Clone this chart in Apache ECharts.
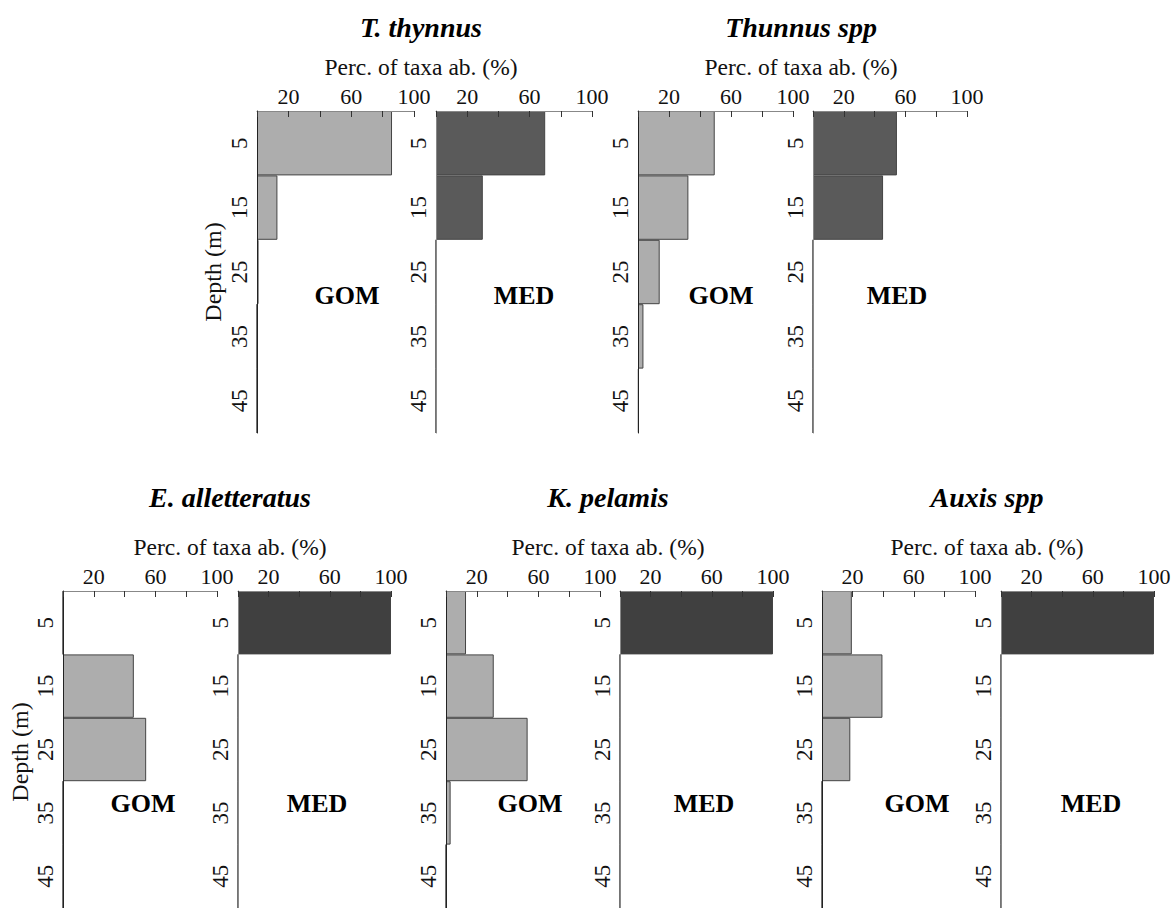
<!DOCTYPE html>
<html>
<head>
<meta charset="utf-8">
<script src="https://cdn.jsdelivr.net/npm/echarts@6/dist/echarts.min.js"></script>
<style>
html,body{margin:0;padding:0;background:#fff;}
#chart{width:1175px;height:908px;}
</style>
</head>
<body>
<div id="chart"></div>
<script>
// ---- data ----
const depthBins = ['5', '15', '25', '35', '45'];
const xTickLabels = [20, 60, 100];
const speciesNames = ['T. thynnus', 'Thunnus spp', 'E. alletteratus', 'K. pelamis', 'Auxis spp'];
const regionNames = ['GOM', 'MED'];
const ttGOM = [86, 13, 1, 0, 0];
const ttMED = [70, 30, 0, 0, 0];
const tsGOM = [49.5, 32.5, 14, 3.5, 0.5];
const tsMED = [54.5, 45.5, 0, 0, 0];
const eaGOM = [0, 46, 54, 0, 0];
const eaMED = [100, 0, 0, 0, 0];
const kpGOM = [13, 31, 53, 3, 0];
const kpMED = [100, 0, 0, 0, 0];
const auGOM = [19.5, 39.5, 18.5, 0, 0];
const auMED = [100, 0, 0, 0, 0];

// ---- layout ----
const FONT = '"Liberation Serif", "DejaVu Serif", serif';
const GOM_FILL = '#adadad', MED_TOP = '#5a5a5a', MED_BOT = '#404040';
const panels = [
  {data: ttGOM, region: 0, left: 257, top: 111, width: 157, height: 322, fill: GOM_FILL, lab: [347, 295], depth: 213},
  {data: ttMED, region: 1, left: 436, top: 111, width: 156, height: 322, fill: MED_TOP, lab: [524, 295]},
  {data: tsGOM, region: 0, left: 638, top: 111, width: 155, height: 322, fill: GOM_FILL, lab: [721, 295]},
  {data: tsMED, region: 1, left: 813, top: 111, width: 154, height: 322, fill: MED_TOP, lab: [897, 295]},
  {data: eaGOM, region: 0, left: 63, top: 591, width: 154, height: 322, fill: GOM_FILL, lab: [143, 803], depth: 20},
  {data: eaMED, region: 1, left: 238, top: 591, width: 153, height: 322, fill: MED_BOT, lab: [317, 803]},
  {data: kpGOM, region: 0, left: 446, top: 591, width: 154, height: 322, fill: GOM_FILL, lab: [530, 803]},
  {data: kpMED, region: 1, left: 620, top: 591, width: 153, height: 322, fill: MED_BOT, lab: [704, 803]},
  {data: auGOM, region: 0, left: 822, top: 591, width: 153, height: 322, fill: GOM_FILL, lab: [917, 803]},
  {data: auMED, region: 1, left: 1001, top: 591, width: 153, height: 322, fill: MED_BOT, lab: [1091, 803]}
];
const titles = [
  {name: speciesNames[0], x: 421, ty: 27, py: 67},
  {name: speciesNames[1], x: 801, ty: 27, py: 67},
  {name: speciesNames[2], x: 230, ty: 497, py: 547},
  {name: speciesNames[3], x: 608, ty: 497, py: 547},
  {name: speciesNames[4], x: 987, ty: 497, py: 547}
];

const grid = [], xAxis = [], yAxis = [], series = [], graphic = [];
panels.forEach((p, i) => {
  grid.push({left: p.left, top: p.top, width: p.width, height: p.height, containLabel: false});
  xAxis.push({
    type: 'value', gridIndex: i, position: 'top', min: 0, max: 100, interval: 20, z: 5,
    splitLine: {show: false},
    axisLine: {show: true, lineStyle: {color: '#888', width: 1}},
    axisTick: {show: true, inside: true, length: 6, lineStyle: {color: '#333', width: 1}},
    axisLabel: {
      margin: 4, color: '#111', fontFamily: FONT, fontSize: 22,
      showMinLabel: true, showMaxLabel: true,
      formatter: v => (xTickLabels.indexOf(v) >= 0 ? String(v) : '')
    }
  });
  yAxis.push({
    type: 'category', gridIndex: i, data: depthBins, inverse: true, z: 5,
    axisLine: {show: true, lineStyle: {color: p.region === 0 ? '#222' : '#888', width: 1}},
    axisTick: {show: false},
    splitLine: {show: false},
    axisLabel: {rotate: 90, margin: 6, color: '#111', fontFamily: FONT, fontSize: 23}
  });
  series.push({
    type: 'bar', xAxisIndex: i, yAxisIndex: i, data: p.data, barWidth: '100%', silent: true,
    itemStyle: {color: p.fill, borderColor: '#444', borderWidth: 1}
  });
  graphic.push({
    type: 'text', x: p.lab[0], y: p.lab[1],
    style: {text: regionNames[p.region], fill: '#000', font: 'bold 26px ' + FONT, textAlign: 'center', textVerticalAlign: 'middle'}
  });
  if (p.depth !== undefined) {
    graphic.push({
      type: 'text', x: p.depth, y: p.top + p.height / 2, rotation: Math.PI / 2,
      style: {text: 'Depth (m)', fill: '#111', font: '24px ' + FONT, textAlign: 'center', textVerticalAlign: 'middle'}
    });
  }
});
titles.forEach(t => {
  graphic.push({
    type: 'text', x: t.x, y: t.ty,
    style: {text: t.name, fill: '#000', font: 'italic bold 28px ' + FONT, textAlign: 'center', textVerticalAlign: 'middle'}
  });
  graphic.push({
    type: 'text', x: t.x, y: t.py,
    style: {text: 'Perc. of taxa ab. (%)', fill: '#111', font: '23.5px ' + FONT, textAlign: 'center', textVerticalAlign: 'middle'}
  });
});

const chart = echarts.init(document.getElementById('chart'), null, {renderer: 'svg'});
chart.setOption({
  animation: false,
  backgroundColor: '#fff',
  grid, xAxis, yAxis, series, graphic
});
</script>
</body>
</html>
